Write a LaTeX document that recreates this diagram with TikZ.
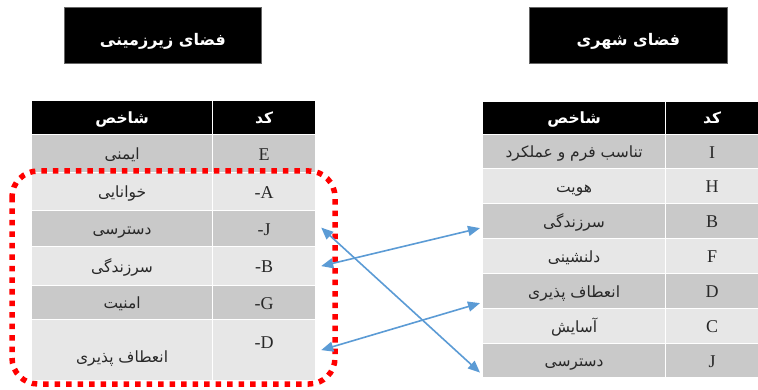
\documentclass[tikz,border=0pt]{standalone}
\usepackage{fontspec}
\setmainfont{Liberation Serif}
\newfontfamily\arabicfont[Script=Arabic]{DejaVu Sans}
\TeXXeTstate=1
\usetikzlibrary{arrows.meta,calc}
\definecolor{rowdark}{RGB}{201,201,201}
\definecolor{rowlight}{RGB}{231,231,231}
\definecolor{arrowblue}{RGB}{91,155,213}
\definecolor{dotred}{RGB}{255,0,0}
\definecolor{celltext}{RGB}{40,40,40}
\newcommand\fatxt[1]{{\arabicfont\beginR #1\endR}}
\begin{document}
\begin{tikzpicture}[x=1pt,y=-1pt,
  cellbase/.style={draw=white, line width=1.2pt, inner sep=0pt, anchor=north west, text=celltext},
  dark/.style={cellbase, fill=rowdark},
  light/.style={cellbase, fill=rowlight},
  head/.style={cellbase, fill=black, text=white, font=\fontsize{15.5}{17}\selectfont\bfseries, text height=12pt, text depth=1pt},
  fa/.style={font=\fontsize{15.5}{17}\selectfont, text height=13pt, text depth=1pt},
  code/.style={font=\fontsize{18}{20}\selectfont, text height=13pt, text depth=0pt},
  titlebox/.style={fill=black, text=white, inner sep=0pt, anchor=north west,
    font=\fontsize{16}{18}\selectfont\bfseries, text height=20pt, text depth=0pt, draw=black!60, line width=0.8pt},
  linkarrow/.style={draw=arrowblue, line width=1.6pt, {Triangle[length=12pt,width=10pt]}-{Triangle[length=12pt,width=10pt]}},
  dotframe/.style={draw=dotred, line width=5.5pt, dash pattern=on 5.5pt off 6pt, rounded corners=26pt}
]
\useasboundingbox (0,0) rectangle (758,390);
\fill[white] (0,0) rectangle (758,390);

% titles
\node[titlebox, minimum width=197pt, minimum height=56pt] (ltitle) at (64,7) {\fatxt{فضای زیرزمینی}};
\node[titlebox, minimum width=198pt, minimum height=56pt] (rtitle) at (529,7) {\fatxt{فضای شهری}};

% left table
\node[head, minimum width=181pt, minimum height=34pt] (lH1) at (31,100) {\fatxt{شاخص}};
\node[head, minimum width=103pt, minimum height=34pt] (lH2) at (212,100) {\fatxt{کد}};
\node[dark, fa, minimum width=181pt, minimum height=38pt] (lE1) at (31,134) {\fatxt{ایمنی}};
\node[dark, code, minimum width=103pt, minimum height=38pt] (lE2) at (212,134) {E};
\node[light, fa, minimum width=181pt, minimum height=38pt] (lA1) at (31,172) {\fatxt{خوانایی}};
\node[light, code, minimum width=103pt, minimum height=38pt] (lA2) at (212,172) {-A};
\node[dark, fa, minimum width=181pt, minimum height=36pt] (lJ1) at (31,210) {\fatxt{دسترسی}};
\node[dark, code, minimum width=103pt, minimum height=36pt] (lJ2) at (212,210) {-J};
\node[light, fa, minimum width=181pt, minimum height=39pt] (lB1) at (31,246) {\fatxt{سرزندگی}};
\node[light, code, minimum width=103pt, minimum height=39pt] (lB2) at (212,246) {-B};
\node[dark, fa, minimum width=181pt, minimum height=34pt] (lG1) at (31,285) {\fatxt{امنیت}};
\node[dark, code, minimum width=103pt, minimum height=34pt] (lG2) at (212,285) {-G};
\node[light, minimum width=181pt, minimum height=61pt] (lD1) at (31,319) {};
\node[light, minimum width=103pt, minimum height=61pt] (lD2) at (212,319) {};
\node[fa, text=celltext] (lD1t) at ($(lD1.center)+(0,6)$) {\fatxt{انعطاف پذیری}};
\node[code, text=celltext] (lD2t) at ($(lD2.center)+(0,-8)$) {-D};

% right table
\node[head, minimum width=183pt, minimum height=33pt] (rH1) at (482,101) {\fatxt{شاخص}};
\node[head, minimum width=93pt, minimum height=33pt] (rH2) at (665,101) {\fatxt{کد}};
\node[dark, fa, minimum width=183pt, minimum height=34pt] (rI1) at (482,134) {\fatxt{تناسب فرم و عملکرد}};
\node[dark, code, minimum width=93pt, minimum height=34pt] (rI2) at (665,134) {I};
\node[light, fa, minimum width=183pt, minimum height=35pt] (rHh1) at (482,168) {\fatxt{هویت}};
\node[light, code, minimum width=93pt, minimum height=35pt] (rHh2) at (665,168) {H};
\node[dark, fa, minimum width=183pt, minimum height=35pt] (rB1) at (482,203) {\fatxt{سرزندگی}};
\node[dark, code, minimum width=93pt, minimum height=35pt] (rB2) at (665,203) {B};
\node[light, fa, minimum width=183pt, minimum height=35pt] (rF1) at (482,238) {\fatxt{دلنشینی}};
\node[light, code, minimum width=93pt, minimum height=35pt] (rF2) at (665,238) {F};
\node[dark, fa, minimum width=183pt, minimum height=35pt] (rD1) at (482,273) {\fatxt{انعطاف پذیری}};
\node[dark, code, minimum width=93pt, minimum height=35pt] (rD2) at (665,273) {D};
\node[light, fa, minimum width=183pt, minimum height=35pt] (rC1) at (482,308) {\fatxt{آسایش}};
\node[light, code, minimum width=93pt, minimum height=35pt] (rC2) at (665,308) {C};
\node[dark, fa, minimum width=183pt, minimum height=34pt] (rJ1) at (482,343) {\fatxt{دسترسی}};
\node[dark, code, minimum width=93pt, minimum height=34pt] (rJ2) at (665,343) {J};

% red dotted frame
\draw[dotframe] (12,171) rectangle (335,384);

% arrows
\coordinate (lBend) at ($(lB2.east)+(5,0)$);
\coordinate (lJend) at ($(lJ2.east)+(5,-1)$);
\coordinate (lDend) at ($(lD2.east)+(5,0)$);
\coordinate (rBend) at ($(rB1.west)+(-2,7)$);
\coordinate (rDend) at ($(rD1.west)+(-2,12)$);
\coordinate (rJend) at ($(rJ1.west)+(-2,12)$);
\draw[linkarrow] (lBend) -- (rBend);
\draw[linkarrow] (lJend) -- (rJend);
\draw[linkarrow] (lDend) -- (rDend);
\end{tikzpicture}
\end{document}
